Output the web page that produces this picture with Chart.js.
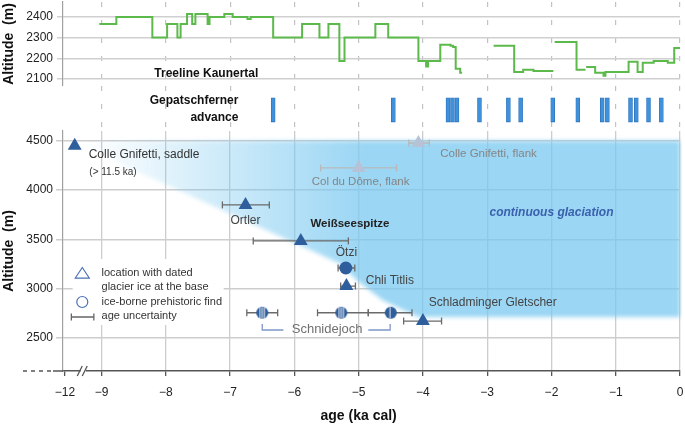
<!DOCTYPE html>
<html lang="de">
<head>
<meta charset="UTF-8" />
<title>Treeline, Gepatschferner and dated glacier ice</title>
<script src="https://cdn.jsdelivr.net/npm/chart.js"></script>
<style>
  html, body { margin: 0; padding: 0; background: #fff; }
  #wrap { position: relative; width: 685px; height: 428px; background: #fff; }
  #wrap canvas { position: absolute; left: 0; }
</style>
</head>
<body>
<div id="wrap">
  <canvas id="tree" width="685" height="86" style="top:0"></canvas>
  <canvas id="adv" width="685" height="44" style="top:86px"></canvas>
  <canvas id="main" width="685" height="298" style="top:130px"></canvas>
</div>

<script>
  const FONT = '"Liberation Sans", Arial, Helvetica, sans-serif';

  // treeline Kaunertal: age where a level starts (ka) and its altitude (m), null = gap
  const treeAge = [-9.035, -8.77, -8.21, -7.98, -7.82, -7.77, -7.67, -7.59, -7.54, -7.35, -7.32, -7.09, -6.96,
    -6.73, -6.68, -6.33, -5.88, -5.61, -5.47, -5.30, -5.22, -4.74, -4.54, -4.07, -3.95, -3.92, -3.73, -3.57,
    -3.53, -3.49, -3.42, -3.39, null,
    -2.90, -2.58, -2.44, -2.28, -1.97, null,
    -1.95, -1.61, -1.47, null,
    -1.46, -1.32, -1.19, -1.16, -0.80, -0.66, -0.58, -0.41, -0.19, -0.09, 0.0];
  const treeAlt = [2366, 2400, 2300, 2366, 2300, 2366, 2414, 2366, 2414, 2366, 2400, 2414, 2400,
    2390, 2400, 2300, 2366, 2300, 2366, 2187, 2300, 2366, 2300, 2187, 2160, 2187, 2265, 2260,
    2255, 2149, 2130, 2130, null,
    2260, 2134, 2144, 2139, 2139, null,
    2279, 2144, 2144, null,
    2158, 2130, 2115, 2134, 2183, 2134, 2178, 2187, 2178, 2250, 2250];

  // Gepatschferner advances (ka)
  const advAge = [-6.33, -4.46, -3.61, -3.54, -3.47, -3.12, -2.67, -2.48, -1.98, -1.59,
    -1.21, -1.13, -0.77, -0.68, -0.49, -0.29];

  // dated glacier ice at the base
  const iceName = ['Colle Gnifetti, saddle', 'Ortler', 'Weißseespitze', 'Chli Titlis', 'Schladminger Gletscher'];
  const iceAge = [-11.2, -6.76, -5.9, -5.19, -4.0];
  const iceAlt = [4450, 3850, 3485, 3027, 2672];
  const iceLo = [null, -7.12, -6.64, -5.28, -4.30];
  const iceHi = [null, -6.39, -5.16, -5.05, -3.71];

  // flank sites (grey)
  const flankName = ['Colle Gnifetti, flank', 'Col du Dôme, flank'];
  const flankAge = [-4.07, -5.0];
  const flankAlt = [4478, 4225];
  const flankLo = [-4.22, -5.59];
  const flankHi = [-3.90, -4.41];

  // ice-borne prehistoric finds
  const findName = ['Ötzi', 'Schnidejoch', 'Schnidejoch', 'Schnidejoch'];
  const findAge = [-5.2, -6.5, -5.27, -4.5];
  const findAlt = [3210, 2756, 2756, 2756];
  const findLo = [-5.32, -6.74, -5.64, -4.85];
  const findHi = [-5.06, -6.26, -4.85, -4.17];

  // outline of the continuous glaciation field
  const glacAge = [-11.2, 0, 0, -4.07, -4.62, -5.02, -5.29, -8.5];
  const glacAlt = [4500, 4500, 2713, 2713, 2880, 3080, 3255, 4204];

  // Schnidejoch bracket
  const schAge = [-6.5, -6.5, -6.17, null, -4.85, -4.51, -4.51];
  const schAlt = [2642, 2581, 2581, null, 2581, 2581, 2642];

  const treeTicks = [2100, 2200, 2300, 2400];
  const altTicks = [2500, 3000, 3500, 4000, 4500];
  const ageTicks = [-12, -9, -8, -7, -6, -5, -4, -3, -2, -1, 0];
  const gridAges = [-9, -8, -7, -6, -5, -4, -3, -2, -1, 0];

  // axis break: everything older than -9 ka is squeezed
  const BREAK = -9, SQUEEZE = 0.19;
  const X = a => (a === null ? null : (a >= BREAK ? a : BREAK + (a - BREAK) * SQUEEZE));
  const XMIN = -9.6, XMAX = 0;

  const tickFont = { family: FONT, size: 12 };
  const titleFont = { family: FONT, size: 14, weight: 'bold' };

  const noPadX = s => { s.paddingLeft = 0; s.paddingRight = 0; };
  const yFit = s => { s.width = 63; s.paddingTop = 0; s.paddingBottom = 0; };

  function dashedX() {
    return {
      type: 'linear', min: XMIN, max: XMAX, offset: false,
      afterBuildTicks: s => { s.ticks = gridAges.map(v => ({ value: v })); },
      ticks: { display: false },
      grid: { color: '#c2c2c2', lineWidth: 1.2, drawTicks: false, offset: false },
      border: { display: false, dash: [5, 13] },
      afterFit: s => { s.height = 0; noPadX(s); }
    };
  }

  function textAt(ctx, l, px, py) {
    ctx.font = `${l.style || 'normal'} ${l.weight || 'normal'} ${l.size || 12}px ${FONT}`;
    ctx.textAlign = l.align || 'left';
    ctx.textBaseline = 'middle';
    ctx.fillStyle = l.color || '#333';
    ctx.fillText(l.t, px, py);
  }

  // ---------- treeline ----------
  const treeLabels = [{ t: 'Treeline Kaunertal', x: -7.37, y: 2127, align: 'center', weight: 'bold', color: '#111' }];

  new Chart(document.getElementById('tree'), {
    type: 'line',
    data: {
      datasets: [{
        data: treeAge.map((a, i) => ({ x: a === null ? treeAge[i - 1] : a, y: treeAlt[i] })),
        borderColor: '#5cb94b', borderWidth: 2, pointRadius: 0,
        stepped: 'before', spanGaps: false, tension: 0
      }]
    },
    options: {
      responsive: false, animation: false, events: [],
      layout: { autoPadding: false, padding: { top: 2, right: 5, left: 0, bottom: 0 } },
      plugins: { legend: { display: false }, tooltip: { enabled: false } },
      scales: {
        x: dashedX(),
        y: {
          min: 2066, max: 2472,
          afterBuildTicks: s => { s.ticks = treeTicks.map(v => ({ value: v })); },
          ticks: { font: tickFont, color: '#222', padding: 4, callback: v => String(v) },
          grid: { color: '#d0d0d0', lineWidth: 1.5, tickLength: 6 },
          border: { color: '#a0a0a0', width: 1.2 },
          title: { display: true, text: 'Altitude  (m)', font: titleFont, color: '#111', padding: { top: 1, bottom: 0 } },
          afterFit: yFit
        }
      }
    },
    plugins: [{
      id: 'treeText',
      afterDraw(chart) {
        const { ctx, scales } = chart;
        treeLabels.forEach(l => textAt(ctx, l, scales.x.getPixelForValue(l.x), scales.y.getPixelForValue(l.y)));
      }
    }]
  });

  // ---------- Gepatschferner advances ----------
  const advLabels = [
    { t: 'Gepatschferner', x: -6.87, y: 0.66, align: 'right', weight: 'bold', color: '#111' },
    { t: 'advance', x: -6.87, y: 0.28, align: 'right', weight: 'bold', color: '#111' }
  ];

  new Chart(document.getElementById('adv'), {
    type: 'bar',
    data: {
      datasets: [{
        data: advAge.map(a => ({ x: a, y: [0.18, 0.73] })),
        backgroundColor: '#3e91da', borderColor: '#2c74bd', borderWidth: 0.8,
        borderSkipped: false, barThickness: 4
      }]
    },
    options: {
      responsive: false, animation: false, events: [],
      layout: { autoPadding: false, padding: { top: 0, right: 5, left: 0, bottom: 0 } },
      plugins: { legend: { display: false }, tooltip: { enabled: false } },
      scales: {
        x: dashedX(),
        y: {
          min: 0, max: 1,
          ticks: { display: false }, grid: { display: false }, border: { display: false },
          afterFit: yFit
        }
      }
    },
    plugins: [{
      id: 'advText',
      afterDraw(chart) {
        const { ctx, scales } = chart;
        advLabels.forEach(l => textAt(ctx, l, scales.x.getPixelForValue(l.x), scales.y.getPixelForValue(l.y)));
      }
    }]
  });

  // ---------- main panel ----------
  const mainLabels = [
    { t: 'Colle Gnifetti, saddle', x: -9.2, y: 4356, color: '#333' },
    { t: '(> 11.5 ka)', x: -9.19, y: 4179, size: 10, color: '#333' },
    { t: 'Colle Gnifetti, flank', x: -3.73, y: 4367, size: 11.5, color: '#858585' },
    { t: 'Col du Dôme, flank', x: -4.97, y: 4083, size: 11.5, align: 'center', color: '#858585' },
    { t: 'Ortler', x: -6.76, y: 3687, align: 'center', color: '#444' },
    { t: 'Weißseespitze', x: -5.75, y: 3656, size: 11.5, weight: 'bold', color: '#222' },
    { t: 'Ötzi', x: -5.19, y: 3362, align: 'center', color: '#444' },
    { t: 'Chli Titlis', x: -4.89, y: 3078, color: '#444' },
    { t: 'Schladminger Gletscher', x: -3.91, y: 2855, color: '#444' },
    { t: 'continuous glaciation', x: -2.0, y: 3768, align: 'center', weight: 'bold', style: 'italic', color: '#3b60ad' },
    { t: 'Schnidejoch', x: -5.49, y: 2591, size: 13, align: 'center', color: '#707070' },
    { t: 'age (ka cal)', x: -5.0, y: null, size: 14, align: 'center', weight: 'bold', color: '#111' }
  ];
  const legendText = ['location with dated', 'glacier ice at the base', 'ice-borne prehistoric find', 'age uncertainty'];
  const legendAlt = [3159, 3017, 2865, 2723];

  function errData(age, alt, lo, hi) {
    const d = [];
    age.forEach((a, i) => {
      if (lo[i] === null) return;
      d.push({ x: X(lo[i]), y: alt[i] }, { x: X(hi[i]), y: alt[i] }, { x: X(hi[i]), y: null });
    });
    return d;
  }

  function stripedDot(stripes) {
    const c = document.createElement('canvas');
    c.width = 14; c.height = 14;
    const g = c.getContext('2d');
    g.fillStyle = '#2f5e9c';
    g.beginPath(); g.arc(7, 7, 6, 0, Math.PI * 2); g.fill();
    g.strokeStyle = '#ffffff'; g.lineWidth = 0.9;
    stripes.forEach(o => { g.beginPath(); g.moveTo(7 + o, 1.5); g.lineTo(7 + o, 12.5); g.stroke(); });
    return c;
  }
  const dot3 = stripedDot([-2.2, 0, 2.2]);
  const dot1 = stripedDot([-0.8]);

  const glaciation = {
    id: 'glaciation',
    beforeDatasetsDraw(chart) {
      const { ctx, chartArea: a, scales: { x, y } } = chart;
      ctx.save();
      ctx.beginPath();
      ctx.rect(a.left, a.top, a.right - a.left + 2, a.bottom - a.top);
      ctx.clip();
      const g = ctx.createLinearGradient(a.left + 20, 0, a.left + 300, 0);
      g.addColorStop(0, 'rgba(120,200,240,0)');
      g.addColorStop(0.45, 'rgba(120,200,240,0.33)');
      g.addColorStop(1, 'rgba(120,200,240,0.74)');
      ctx.filter = 'blur(2px)';
      ctx.fillStyle = g;
      ctx.beginPath();
      glacAge.forEach((v, i) => {
        const px = x.getPixelForValue(X(v)), py = y.getPixelForValue(glacAlt[i]);
        if (i === 0) ctx.moveTo(px, py); else ctx.lineTo(px, py);
      });
      ctx.closePath();
      ctx.fill();
      ctx.restore();

      // white legend box over the grid
      const x0 = x.getPixelForValue(-9.45), x1 = x.getPixelForValue(-7.10);
      const y0 = y.getPixelForValue(3301), y1 = y.getPixelForValue(2632);
      ctx.fillStyle = '#fff';
      ctx.fillRect(x0, y0, x1 - x0, y1 - y0);
    }
  };

  const decor = {
    id: 'decor',
    afterDatasetsDraw(chart) {
      const { ctx, scales: { x, y } } = chart;
      ctx.save();
      mainLabels.forEach(l => {
        const py = l.y === null ? x.bottom - 12 : y.getPixelForValue(l.y);
        textAt(ctx, l, x.getPixelForValue(l.x), py);
      });
      legendText.forEach((t, i) => textAt(ctx, { t, size: 11, color: '#333' }, x.getPixelForValue(-9.0), y.getPixelForValue(legendAlt[i])));

      // legend symbols
      const lx = x.getPixelForValue(-9.30);
      const ty = y.getPixelForValue(legendAlt[0]);
      ctx.strokeStyle = '#4a71b4'; ctx.lineWidth = 1.2;
      ctx.beginPath();
      ctx.moveTo(lx, ty - 5.5); ctx.lineTo(lx + 7, ty + 5); ctx.lineTo(lx - 7, ty + 5); ctx.closePath();
      ctx.stroke();
      ctx.beginPath(); ctx.arc(lx, y.getPixelForValue(legendAlt[2]), 5.5, 0, Math.PI * 2); ctx.stroke();
      const ey = y.getPixelForValue(legendAlt[3]) + 1;
      const ex0 = x.getPixelForValue(-9.47), ex1 = x.getPixelForValue(-9.12);
      ctx.strokeStyle = '#666'; ctx.lineWidth = 1.3;
      ctx.beginPath();
      ctx.moveTo(ex0, ey); ctx.lineTo(ex1, ey);
      ctx.moveTo(ex0, ey - 3.5); ctx.lineTo(ex0, ey + 3.5);
      ctx.moveTo(ex1, ey - 3.5); ctx.lineTo(ex1, ey + 3.5);
      ctx.stroke();
      ctx.restore();
    },
    afterDraw(chart) {
      const { ctx, scales: { x } } = chart;
      const ay = x.top;
      ctx.save();
      ctx.strokeStyle = '#555'; ctx.lineWidth = 1.5;
      ctx.setLineDash([4, 4]);
      ctx.beginPath(); ctx.moveTo(23, ay); ctx.lineTo(53, ay); ctx.stroke();
      ctx.setLineDash([]);
      ctx.beginPath(); ctx.moveTo(53, ay); ctx.lineTo(x.left, ay); ctx.stroke();
      const bx = x.getPixelForValue(X(-10.5));
      ctx.fillStyle = '#fff';
      ctx.fillRect(bx - 2.5, ay - 2, 5, 4);
      ctx.lineWidth = 1.3;
      ctx.beginPath();
      ctx.moveTo(bx - 6, ay + 5); ctx.lineTo(bx - 1, ay - 5);
      ctx.moveTo(bx - 1, ay + 5); ctx.lineTo(bx + 4, ay - 5);
      ctx.stroke();
      ctx.restore();
    }
  };

  new Chart(document.getElementById('main'), {
    type: 'scatter',
    data: {
      datasets: [
        {
          type: 'line', order: 6,
          data: schAge.map((a, i) => ({ x: a === null ? schAge[i - 1] : a, y: schAlt[i] })),
          borderColor: '#7e98c8', borderWidth: 1.3, pointRadius: 0, spanGaps: false, tension: 0
        },
        {
          type: 'line', order: 5,
          data: errData(iceAge, iceAlt, iceLo, iceHi).concat(errData(findAge, findAlt, findLo, findHi)),
          borderColor: '#6a6a6a', borderWidth: 1.3, spanGaps: false,
          pointStyle: 'line', pointRotation: 90, pointRadius: 3.5,
          pointBorderColor: '#6a6a6a', pointBorderWidth: 1.3
        },
        {
          type: 'line', order: 5,
          data: errData(flankAge, flankAlt, flankLo, flankHi),
          borderColor: '#b9b9b9', borderWidth: 1.3, spanGaps: false,
          pointStyle: 'line', pointRotation: 90, pointRadius: 3.5,
          pointBorderColor: '#b9b9b9', pointBorderWidth: 1.3
        },
        {
          label: 'flank', order: 2,
          data: flankAge.map((a, i) => ({ x: X(a), y: flankAlt[i] })),
          pointStyle: 'triangle', pointRadius: 8,
          backgroundColor: '#b8c2d6', borderColor: '#b8c2d6', borderWidth: 0
        },
        {
          label: 'dated ice', order: 1,
          data: iceAge.map((a, i) => ({ x: X(a), y: iceAlt[i] })),
          pointStyle: 'triangle', pointRadius: 8,
          backgroundColor: '#2f5e9c', borderColor: '#2f5e9c', borderWidth: 0
        },
        {
          label: 'finds', order: 1,
          data: findAge.map((a, i) => ({ x: X(a), y: findAlt[i] })),
          pointStyle: ['circle', dot3, dot3, dot1], pointRadius: 6.5,
          backgroundColor: '#2f5e9c', borderColor: '#2f5e9c', borderWidth: 0
        }
      ]
    },
    options: {
      responsive: false, animation: false, events: [],
      layout: { autoPadding: false, padding: { top: 1, right: 5, left: 0, bottom: 0 } },
      plugins: { legend: { display: false }, tooltip: { enabled: false } },
      scales: {
        x: {
          type: 'linear', min: XMIN, max: XMAX,
          afterBuildTicks: s => { s.ticks = ageTicks.map(a => ({ value: X(a) })); },
          ticks: {
            font: tickFont, color: '#222', padding: 9, autoSkip: false, maxRotation: 0,
            callback: v => {
              const a = v < -9.2 ? -12 : Math.round(v);
              return a < 0 ? '\u2212' + Math.abs(a) : '0';
            }
          },
          grid: {
            color: c => (c.tick && c.tick.value < -9.2) ? 'rgba(0,0,0,0)' : '#cdcdcd',
            lineWidth: 1.3, tickLength: 5, tickColor: '#555'
          },
          border: { color: '#555', width: 1.5 },
          afterFit: s => { s.height = 57; noPadX(s); }
        },
        y: {
          min: 2165, max: 4600,
          afterBuildTicks: s => { s.ticks = altTicks.map(v => ({ value: v })); },
          ticks: { font: tickFont, color: '#222', padding: 3, callback: v => String(v) },
          grid: { color: '#cdcdcd', lineWidth: 1.5, tickLength: 7 },
          border: { color: '#a0a0a0', width: 1.2 },
          title: { display: true, text: 'Altitude  (m)', font: titleFont, color: '#111', padding: { top: 1, bottom: 0 } },
          afterFit: yFit
        }
      }
    },
    plugins: [glaciation, decor]
  });
</script>
</body>
</html>
